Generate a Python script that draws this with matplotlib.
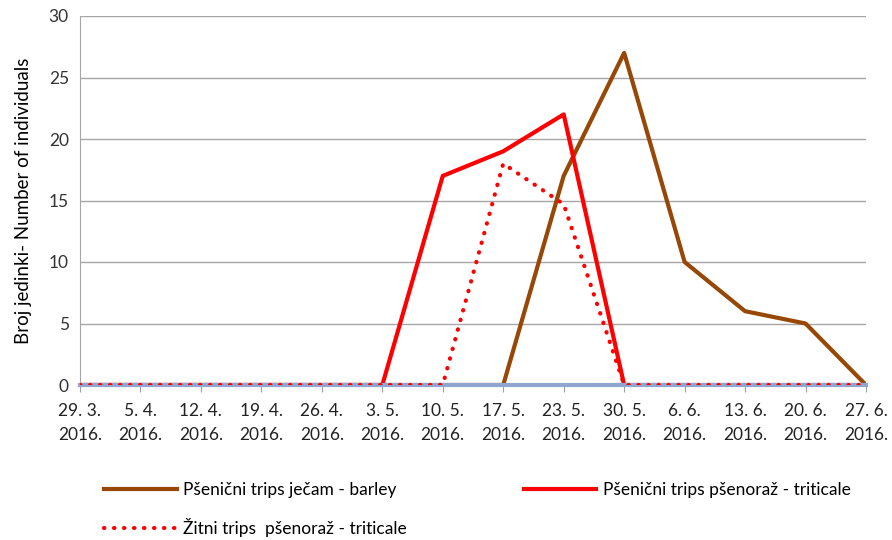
import matplotlib.pyplot as plt

plt.rcParams['font.family'] = ['Lato', 'DejaVu Sans']

dates = ['29. 3.', '5. 4.', '12. 4.', '19. 4.', '26. 4.', '3. 5.', '10. 5.',
         '17. 5.', '23. 5.', '30. 5.', '6. 6.', '13. 6.', '20. 6.', '27. 6.']
year = '2016.'

barley = [0, 0, 0, 0, 0, 0, 0, 0, 17, 27, 10, 6, 5, 0]
triticale = [0, 0, 0, 0, 0, 0, 17, 19, 22, 0, 0, 0, 0, 0]
zitni_triticale = [0, 0, 0, 0, 0, 0, 0, 18, 14.7, 0, 0, 0, 0, 0]

fig = plt.figure(figsize=(8.92, 5.40), dpi=100)
ax = fig.add_axes([80/892, 1 - 385/540, 786/892, 369/540])

x = range(len(dates))
l1, = ax.plot(x, barley, color='#974806', lw=3, zorder=2,
              label='Pšenični trips ječam - barley')
l2, = ax.plot(x, triticale, color='#FF0000', lw=3, zorder=2,
              label='Pšenični trips pšenoraž - triticale')
l3, = ax.plot(x, zitni_triticale, color='#FF0000', lw=3, zorder=4,
              linestyle=(0, (0.1, 2.3)), dash_capstyle='round',
              label='Žitni trips  pšenoraž - triticale')

ax.set_xlim(0, len(dates) - 1)
ax.set_ylim(0, 30)
ax.set_yticks(range(0, 31, 5))
ax.set_xticks(list(x))
ax.set_xticklabels([d + '\n' + year for d in dates], fontsize=12.5, linespacing=1.6)
ax.tick_params(axis='y', length=0, labelsize=12.5, pad=8, colors='#333333')
ax.tick_params(axis='x', length=5, color='#A0A0A0', labelcolor='#222222', pad=8)
ax.grid(axis='y', color='#A6A6A6', lw=1)
ax.set_axisbelow(True)
for s in ['top', 'right']:
    ax.spines[s].set_visible(False)
ax.spines['left'].set_color('#A6A6A6')
ax.spines['bottom'].set_color('#8EA6D0')
ax.spines['bottom'].set_linewidth(3)
ax.spines['bottom'].set_zorder(3)
ax.set_ylabel('Broj jedinki- Number of individuals', fontsize=13.5, labelpad=12)

fig.legend(handles=[l1, l3, l2], loc='upper left', bbox_to_anchor=(88/892, 1 - 466/540),
           ncol=2, frameon=False, fontsize=12.5, handlelength=4.2, columnspacing=6.7,
           labelspacing=1.15, handletextpad=0.4)

fig.savefig('out.png', dpi=100)
